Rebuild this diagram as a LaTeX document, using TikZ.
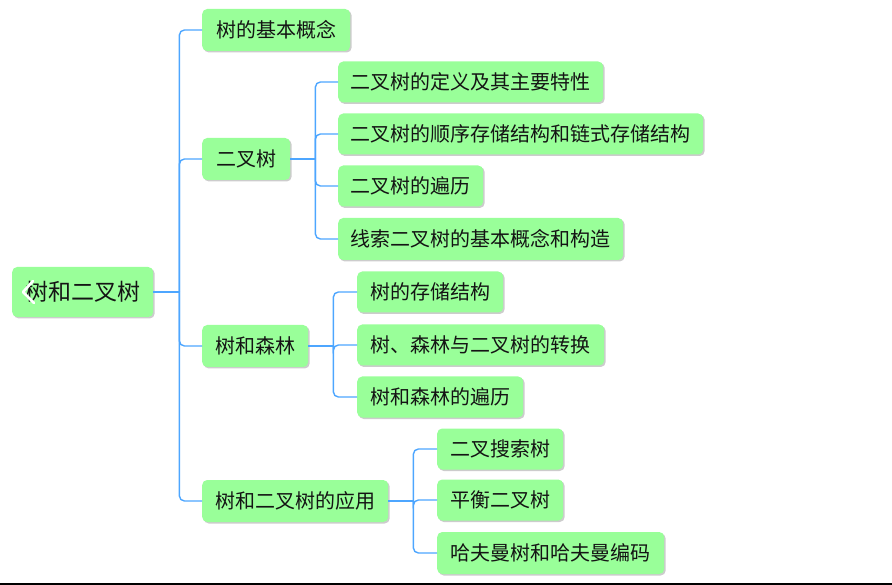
\documentclass[tikz,border=0pt]{standalone}
\usepackage{fontspec}
\setmainfont{Noto Sans CJK SC}
\usetikzlibrary{shadows}
\definecolor{boxgreen}{RGB}{153,255,153}
\definecolor{linkblue}{RGB}{77,166,255}
\definecolor{txt}{RGB}{20,20,20}
\tikzset{
  mbox/.style={draw=none, fill=boxgreen, rounded corners=5pt, inner sep=0pt, anchor=west,
    text=txt, font=\fontsize{20}{20}\selectfont,
    drop shadow={shadow xshift=1.5pt, shadow yshift=-1.5pt, fill=black!25, opacity=0.8}},
  rootbox/.style={mbox, font=\fontsize{23}{23}\selectfont},
  conn/.style={draw=linkblue, line width=1.4pt, rounded corners=5pt},
}
\begin{document}
\begin{tikzpicture}[x=1pt,y=-1pt]
\useasboundingbox (0,0) rectangle (892,585);
% root
\node[rootbox, minimum width=141pt, minimum height=50pt] (root) at (12,292) {树和二叉树};
\draw[white, line width=2.6pt, line cap=round, line join=round] (33,281) -- (23,292) -- (34,303);
% level 1
\node[mbox, minimum width=148pt, minimum height=42pt] (a1) at (202,30) {树的基本概念};
\node[mbox, minimum width=88pt, minimum height=42pt] (a2) at (202,159) {二叉树};
\node[mbox, minimum width=106pt, minimum height=42pt] (a3) at (202,346) {树和森林};
\node[mbox, minimum width=186pt, minimum height=42pt] (a4) at (202,501) {树和二叉树的应用};
% level 2
\node[mbox, minimum width=265pt, minimum height=41pt] (b1) at (338,82) {二叉树的定义及其主要特性};
\node[mbox, minimum width=365pt, minimum height=41pt] (b2) at (338,134) {二叉树的顺序存储结构和链式存储结构};
\node[mbox, minimum width=145pt, minimum height=41pt] (b3) at (338,186) {二叉树的遍历};
\node[mbox, minimum width=285pt, minimum height=42pt] (b4) at (338,239) {线索二叉树的基本概念和构造};
\node[mbox, minimum width=146pt, minimum height=41pt] (c1) at (357,292) {树的存储结构};
\node[mbox, minimum width=247pt, minimum height=41pt] (c2) at (357,345) {树、森林与二叉树的转换};
\node[mbox, minimum width=166pt, minimum height=41pt] (c3) at (357,397) {树和森林的遍历};
\node[mbox, minimum width=126pt, minimum height=41pt] (d1) at (437,449) {二叉搜索树};
\node[mbox, minimum width=126pt, minimum height=41pt] (d2) at (437,500) {平衡二叉树};
\node[mbox, minimum width=227pt, minimum height=42pt] (d3) at (437,553) {哈夫曼树和哈夫曼编码};
% connectors
\coordinate (j0) at ([xshift=26pt]root.east);
\draw[conn] (root.east) -- (j0);
\foreach \n in {a1,a2,a3,a4} \draw[conn] (j0) |- (\n.west);
\coordinate (j1) at ([xshift=25pt]a2.east);
\draw[conn] (a2.east) -- (j1);
\foreach \n in {b1,b2,b3,b4} \draw[conn] (j1) |- (\n.west);
\coordinate (j2) at ([xshift=25pt]a3.east);
\draw[conn] (a3.east) -- (j2);
\foreach \n in {c1,c2,c3} \draw[conn] (j2) |- (\n.west);
\coordinate (j3) at ([xshift=25pt]a4.east);
\draw[conn] (a4.east) -- (j3);
\foreach \n in {d1,d2,d3} \draw[conn] (j3) |- (\n.west);
% bottom rule
\coordinate (bl) at (0,583.6);
\coordinate (br) at (892,583.6);
\draw[black, line width=2pt] (bl) -- (br);
\end{tikzpicture}
\end{document}
